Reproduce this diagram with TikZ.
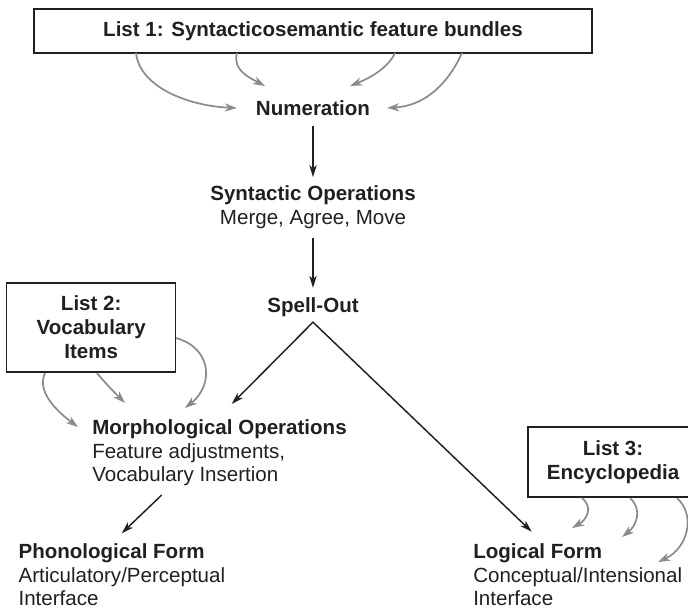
\documentclass[tikz,border=0pt]{standalone}
\usepackage{fontspec}
\setmainfont{Liberation Sans}
\usetikzlibrary{arrows.meta}
\definecolor{ink}{HTML}{231F20}
\definecolor{graya}{HTML}{8C8C8C}
\begin{document}
\begin{tikzpicture}[x=0.75pt,y=-0.75pt,
  every node/.style={inner sep=0pt, text=ink},
  hd/.style={font=\fontsize{15.4pt}{18pt}\selectfont\bfseries},
  tx/.style={font=\fontsize{15.4pt}{18pt}\selectfont},
  box/.style={draw=ink, line width=1.1pt, align=center, hd},
  flowtip/.style={-{Stealth[length=9pt,width=5.5pt,inset=2.5pt]}},
  flow/.style={draw=ink, line width=1.1pt, flowtip},
  feed/.style={draw=graya, line width=1.3pt, -{Stealth[length=9pt,width=6pt,inset=2.5pt]}}]
\useasboundingbox (0,0) rectangle (688,608);

% ---- nodes
\node[box, minimum width=418.5pt, minimum height=33pt] (list1) at (313,31) {List 1: Syntacticosemantic feature bundles};
\node[hd, anchor=base] (num) at (313,115.3) {Numeration};
\node[hd, anchor=base] (synt) at (313,200.3) {Syntactic Operations};
\node[tx, anchor=base] (merge) at (313,224.3) {Merge, Agree, Move};
\node[hd, anchor=base] (spell) at (313,312.3) {Spell-Out};
\node[box, minimum width=126.75pt, minimum height=66.75pt] (list2) at (91.2,327.5) {List 2:\\Vocabulary\\Items};
\node[hd, anchor=base west] (morph) at (92,434.3) {Morphological Operations};
\node[tx, anchor=base west] (feat) at (92,458.3) {Feature adjustments,};
\node[tx, anchor=base west] (vocins) at (92,481.3) {Vocabulary Insertion};
\node[box, minimum width=127.5pt, minimum height=52.5pt] (list3) at (613,462) {List 3:\\Encyclopedia};
\node[hd, anchor=base west] (pf) at (18.3,558.3) {Phonological Form};
\node[tx, anchor=base west] (pf2) at (18.3,582.3) {Articulatory/Perceptual};
\node[tx, anchor=base west] (pf3) at (18.3,605.3) {Interface};
\node[hd, anchor=base west] (lf) at (473,558.3) {Logical Form};
\node[tx, anchor=base west] (lf2) at (473,582.3) {Conceptual/Intensional};
\node[tx, anchor=base west] (lf3) at (473,605.3) {Interface};

% ---- main black flow
\draw[flow] ([yshift=-8pt]num.south) -- ([yshift=6pt]synt.north);
\draw[flow] ([yshift=-7pt]merge.south) -- ([yshift=7pt]spell.north);
\coordinate (apex) at ([yshift=-4pt]spell.south);
\coordinate (mtip) at (231.7,404);
\coordinate (ltip) at (531.7,531.7);
\draw[flow, {Stealth[length=9pt,width=5.5pt,inset=2.5pt]}-{Stealth[length=9pt,width=5.5pt,inset=2.5pt]}] (mtip) -- (apex) -- (ltip);
\coordinate (pfs) at (161.7,495);
\coordinate (pft) at (121.7,533.3);
\draw[flow] (pfs) -- (pft);

% ---- List 1 feeds
\coordinate (a1s) at (136,53);  \coordinate (a1t) at (237,108);
\coordinate (a2s) at (237,53);  \coordinate (a2t) at (265,86);
\coordinate (a3s) at (395,53);  \coordinate (a3t) at (350,86);
\coordinate (a4s) at (462,53);  \coordinate (a4t) at (387,108);
\draw[feed] (a1s) .. controls (140,88) and (190,106) .. (a1t);
\draw[feed] (a2s) .. controls (232,70) and (250,78) .. (a2t);
\draw[feed] (a3s) .. controls (388,68) and (370,78) .. (a3t);
\draw[feed] (a4s) .. controls (445,90) and (420,106) .. (a4t);

% ---- List 2 feeds
\coordinate (b1s) at (45,373);   \coordinate (b1t) at (78,427);
\coordinate (b2s) at (97,373);   \coordinate (b2t) at (125,403);
\coordinate (b3s) at (176,338);  \coordinate (b3t) at (185,408);
\draw[feed] (b1s) .. controls (36,392) and (58,412) .. (b1t);
\draw[feed] (b2s) .. controls (106,384) and (115,393) .. (b2t);
\draw[feed] (b3s) .. controls (212,348) and (214,385) .. (b3t);

% ---- List 3 feeds
\coordinate (c1s) at (582,498);  \coordinate (c1t) at (572,528);
\coordinate (c2s) at (630,498);  \coordinate (c2t) at (622,537);
\coordinate (c3s) at (677,498);  \coordinate (c3t) at (658,562);
\draw[feed] (c1s) .. controls (594,508) and (586,520) .. (c1t);
\draw[feed] (c2s) .. controls (643,510) and (636,526) .. (c2t);
\draw[feed] (c3s) .. controls (696,515) and (688,548) .. (c3t);
\end{tikzpicture}
\end{document}
